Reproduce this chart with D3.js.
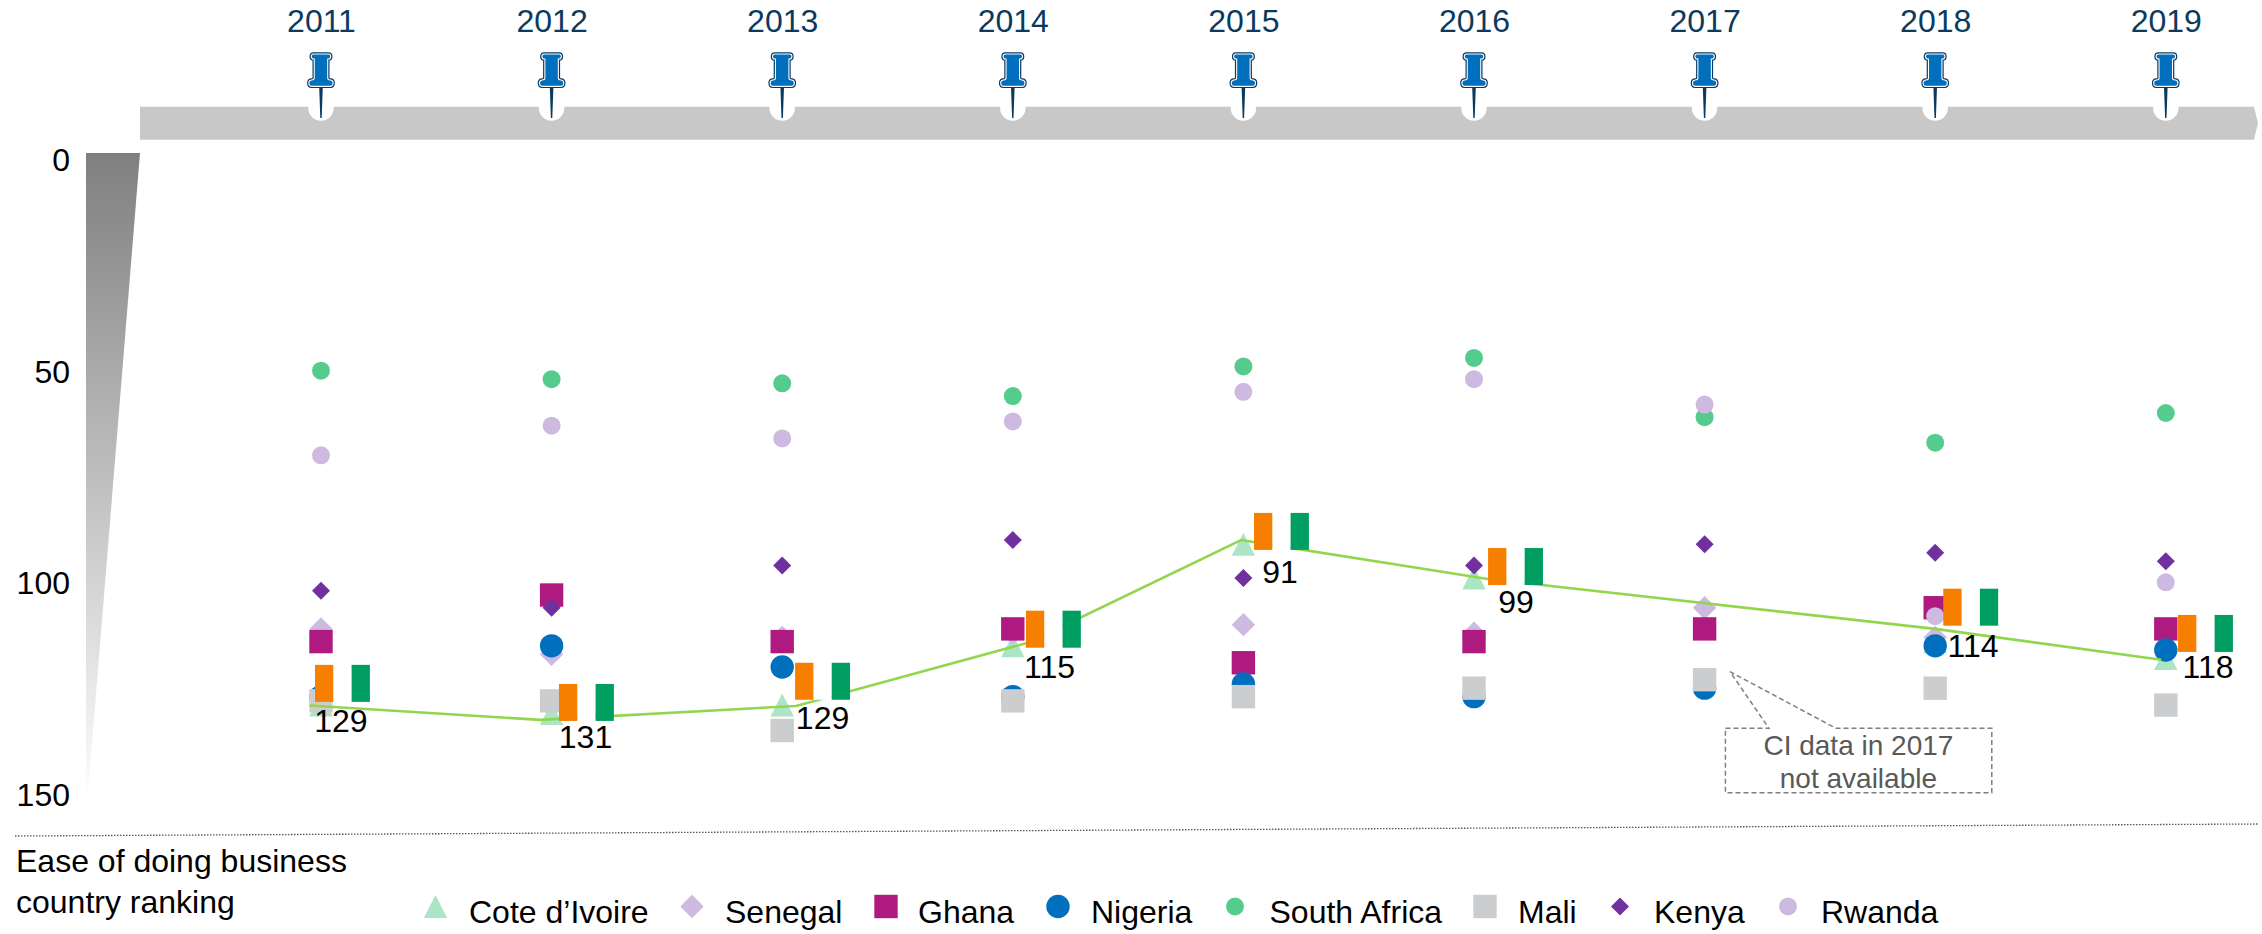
<!DOCTYPE html>
<html>
<head>
<meta charset="utf-8">
<script src="https://cdnjs.cloudflare.com/ajax/libs/d3/7.8.5/d3.min.js"></script>
<style>
html,body{margin:0;padding:0;background:#fff;}
svg{display:block;font-family:"Liberation Sans",Arial,sans-serif;}
</style>
</head>
<body>
<div id="chart"></div>
<script>
// ---------- data ----------
const years = [2011, 2012, 2013, 2014, 2015, 2016, 2017, 2018, 2019];
const rankTicks = [0, 50, 100, 150];

const coteDIvoire = [129, 131, 129, 115, 91, 99, null, 114, 118];
const senegal     = [111, 117, 113, 112, 110, 112, 106, 113, 112];
const ghana       = [114, 103, 114, 111, 119, 114, 111, 106, 111];
const nigeria     = [127, 115, 120, 127, 124, 127, 125, 115, 116];
const southAfrica = [50, 52, 53, 56, 49, 47, 61, 67, 60];
const mali        = [128, 128, 135, 128, 127, 125, 123, 125, 129];
const kenya       = [102, 106, 96, 90, 99, 96, 91, 93, 95];
const rwanda      = [70, 63, 66, 62, 55, 52, 58, 108, 100];

// trend line as drawn: fractional year and rank of every vertex
const trendYear = [2010.95, 2011.95, 2013.06, 2014.07, 2014.99, 2016.06, 2018.0, 2018.98];
const trendRank = [129.1, 132.5, 129.2, 114.2, 90.0, 99.2, 111.0, 118.3];

// value labels of the Cote d'Ivoire series
const labelText = [129, 131, 129, 115, 91, 99, 114, 118];
const labelYear = [2011.086, 2012.147, 2013.175, 2014.159, 2015.159, 2016.182, 2018.164, 2019.183];
const labelRank = [132.7, 136.4, 131.9, 119.9, 97.5, 104.5, 114.8, 119.9];

// Ivorian flag markers: left edge (year) and top edge (rank)
const flagYear = [2010.974, 2012.032, 2013.056, 2014.057, 2015.046, 2016.061, 2018.035, 2019.053];
const flagRank = [119.5, 124.0, 119.0, 106.7, 83.6, 91.9, 101.5, 107.7];

const seriesNames = ["Cote d\u2019Ivoire", "Senegal", "Ghana", "Nigeria", "South Africa", "Mali", "Kenya", "Rwanda"];
const seriesValues = [coteDIvoire, senegal, ghana, nigeria, southAfrica, mali, kenya, rwanda];
const seriesShapes = ["triangle", "bigDiamond", "square", "bigCircle", "smallCircle", "square", "smallDiamond", "smallCircle"];
const seriesColors = ["#ABE5C6", "#CEBAE0", "#AE1A80", "#006FBE", "#55CC8E", "#CCCDCF", "#7030A0", "#CEBAE0"];

// ---------- layout ----------
const W = 2262, H = 934, FS = 32;
const legendMarkX = [435.5, 692, 886, 1058, 1235, 1485, 1620, 1788];
const legendTextX = [469, 725, 918, 1091, 1269.5, 1518, 1654, 1821];

const x = d3.scaleLinear().domain([2011, 2019]).range([321, 2165.8]);
const y = d3.scaleLinear().domain([0, 150]).range([159, 794]);

const svg = d3.select("#chart").append("svg").attr("width", W).attr("height", H)
  .attr("viewBox", `0 0 ${W} ${H}`);

function shapePath(kind) {
  const p = d3.path();
  const poly = pts => { pts.forEach((q, i) => i ? p.lineTo(q[0], q[1]) : p.moveTo(q[0], q[1])); p.closePath(); };
  const a = s => { p.moveTo(s, 0); p.arc(0, 0, s, 0, 2 * Math.PI); };
  const dia = s => poly([[0, -s], [s, 0], [0, s], [-s, 0]]);
  if (kind === "triangle") poly([[0, -11.5], [11.7, 11.5], [-11.7, 11.5]]);
  if (kind === "square") poly([[-11.7, -11.7], [11.7, -11.7], [11.7, 11.7], [-11.7, 11.7]]);
  if (kind === "bigCircle") a(11.7);
  if (kind === "smallCircle") a(9);
  if (kind === "bigDiamond") dia(11.7);
  if (kind === "smallDiamond") dia(9);
  return p.toString();
}

// ---------- wedge gradient ----------
const defs = svg.append("defs");
const grad = defs.append("linearGradient").attr("id", "wedge").attr("x1", 0).attr("y1", 0).attr("x2", 0).attr("y2", 1);
grad.append("stop").attr("offset", 0).attr("stop-color", "#7F7F7F");
grad.append("stop").attr("offset", 1).attr("stop-color", "#FFFFFF");
svg.append("path").attr("d", "M86,153 H140 L87,805 H86 Z").attr("fill", "url(#wedge)");

// ---------- rank axis ----------
const yAxis = svg.append("g").attr("transform", "translate(70,0)")
  .call(d3.axisLeft(y).tickValues(rankTicks).tickSize(0).tickPadding(0).tickFormat(d3.format("d")));
yAxis.select(".domain").remove();
yAxis.selectAll("text").attr("font-size", FS).attr("font-family", "inherit").attr("fill", "#000").attr("dy", "0.36em");

// ---------- timeline ----------
svg.append("path").attr("d", "M140,106.7 H2254 L2258,123 L2254,139.7 H140 Z").attr("fill", "#C8C8C8");
const pins = svg.append("g").selectAll("g").data(years).join("g")
  .attr("transform", d => `translate(${x(d)},0)`);
pins.append("path").attr("d", "M-12.7,105 H12.7 V108 A12.7,12.7 0 0 1 -12.7,108 Z").attr("fill", "#fff");
pins.append("path").attr("d", "M-1.8,87 H1.8 L0.7,118 H-0.7 Z").attr("fill", "#0A3A5E");
const pinBody = "M-7.5,54.5 H7.5 Q9.2,54.5 9.2,56.5 Q9.2,58.5 7.4,58.5 H6.2 V78 Q6.2,80.5 9.4,80.5 Q11.6,80.5 11.6,83.1 Q11.6,85.8 9.4,85.8 H-9.4 Q-11.6,85.8 -11.6,83.1 Q-11.6,80.5 -9.4,80.5 Q-6.2,80.5 -6.2,78 V58.5 H-7.4 Q-9.2,58.5 -9.2,56.5 Q-9.2,54.5 -7.5,54.5 Z";
pins.append("path").attr("d", pinBody).attr("fill", "none").attr("stroke", "#0A3A5E").attr("stroke-width", 4.6).attr("stroke-linejoin", "round");
pins.append("path").attr("d", pinBody).attr("fill", "none").attr("stroke", "#fff").attr("stroke-width", 2.2).attr("stroke-linejoin", "round");
pins.append("path").attr("d", pinBody).attr("fill", "#006FBE");

const xAxis = svg.append("g").attr("transform", "translate(0,32.3)")
  .call(d3.axisTop(x).tickValues(years).tickSize(0).tickPadding(0).tickFormat(d3.format("d")));
xAxis.select(".domain").remove();
xAxis.selectAll("text").attr("font-size", FS).attr("font-family", "inherit").attr("fill", "#0B3A5E");

// ---------- markers ----------
seriesValues.forEach((vals, i) => {
  svg.append("g").selectAll("path")
    .data(vals.map((v, j) => ({ v, yr: years[j] })).filter(d => d.v !== null))
    .join("path")
    .attr("d", shapePath(seriesShapes[i]))
    .attr("transform", d => `translate(${x(d.yr)},${y(d.v)})`)
    .attr("fill", seriesColors[i]);
});

// ---------- trend line ----------
const trendLine = d3.line().x(d => x(d[0])).y(d => y(d[1]));
svg.append("path")
  .attr("d", trendLine(d3.zip(trendYear, trendRank)))
  .attr("fill", "none").attr("stroke", "#92D650").attr("stroke-width", 2.6);

// ---------- flags ----------
const flagW = 18.3, flagH = 37;
const flags = svg.append("g").selectAll("g").data(d3.zip(flagYear, flagRank)).join("g")
  .attr("transform", d => `translate(${x(d[0])},${y(d[1])})`);
flags.append("rect").attr("x", 18.3).attr("width", flagW).attr("height", flagH).attr("fill", "#fff");
flags.append("rect").attr("width", flagW).attr("height", flagH).attr("fill", "#F77F00");
flags.append("rect").attr("x", 36.6).attr("width", flagW).attr("height", flagH).attr("fill", "#009E60");

// ---------- value labels ----------
svg.append("g").selectAll("text").data(d3.zip(labelText, labelYear, labelRank)).join("text")
  .attr("x", d => x(d[1])).attr("y", d => y(d[2])).attr("dy", "0.36em")
  .attr("text-anchor", "middle").attr("font-size", FS).attr("fill", "#000")
  .text(d => d[0]);

// ---------- callout ----------
svg.append("path")
  .attr("d", "M1725.4,728.3 H1769 L1730,671.7 L1836,728.3 H1991.8 V792.7 H1725.4 Z")
  .attr("fill", "none").attr("stroke", "#7F7F7F").attr("stroke-width", 1.5).attr("stroke-dasharray", "5 3");
svg.append("text").attr("x", 1858.4).attr("y", 755).attr("text-anchor", "middle")
  .attr("font-size", 28).attr("fill", "#595959").text("CI data in 2017");
svg.append("text").attr("x", 1858.4).attr("y", 788).attr("text-anchor", "middle")
  .attr("font-size", 28).attr("fill", "#595959").text("not available");

// ---------- separator + axis caption ----------
svg.append("line").attr("x1", 15).attr("y1", 836).attr("x2", 2258).attr("y2", 824)
  .attr("stroke", "#555").attr("stroke-width", 1.3).attr("stroke-dasharray", "1.5 1.5");
svg.append("text").attr("x", 16).attr("y", 871.7).attr("font-size", FS).attr("fill", "#000").text("Ease of doing business");
svg.append("text").attr("x", 16).attr("y", 913).attr("font-size", FS).attr("fill", "#000").text("country ranking");

// ---------- legend ----------
seriesNames.forEach((name, i) => {
  svg.append("path").attr("d", shapePath(seriesShapes[i]))
    .attr("transform", `translate(${legendMarkX[i]},906.5)`).attr("fill", seriesColors[i]);
  svg.append("text").attr("x", legendTextX[i]).attr("y", 922.5)
    .attr("font-size", FS).attr("fill", "#000").text(name);
});
</script>
</body>
</html>
